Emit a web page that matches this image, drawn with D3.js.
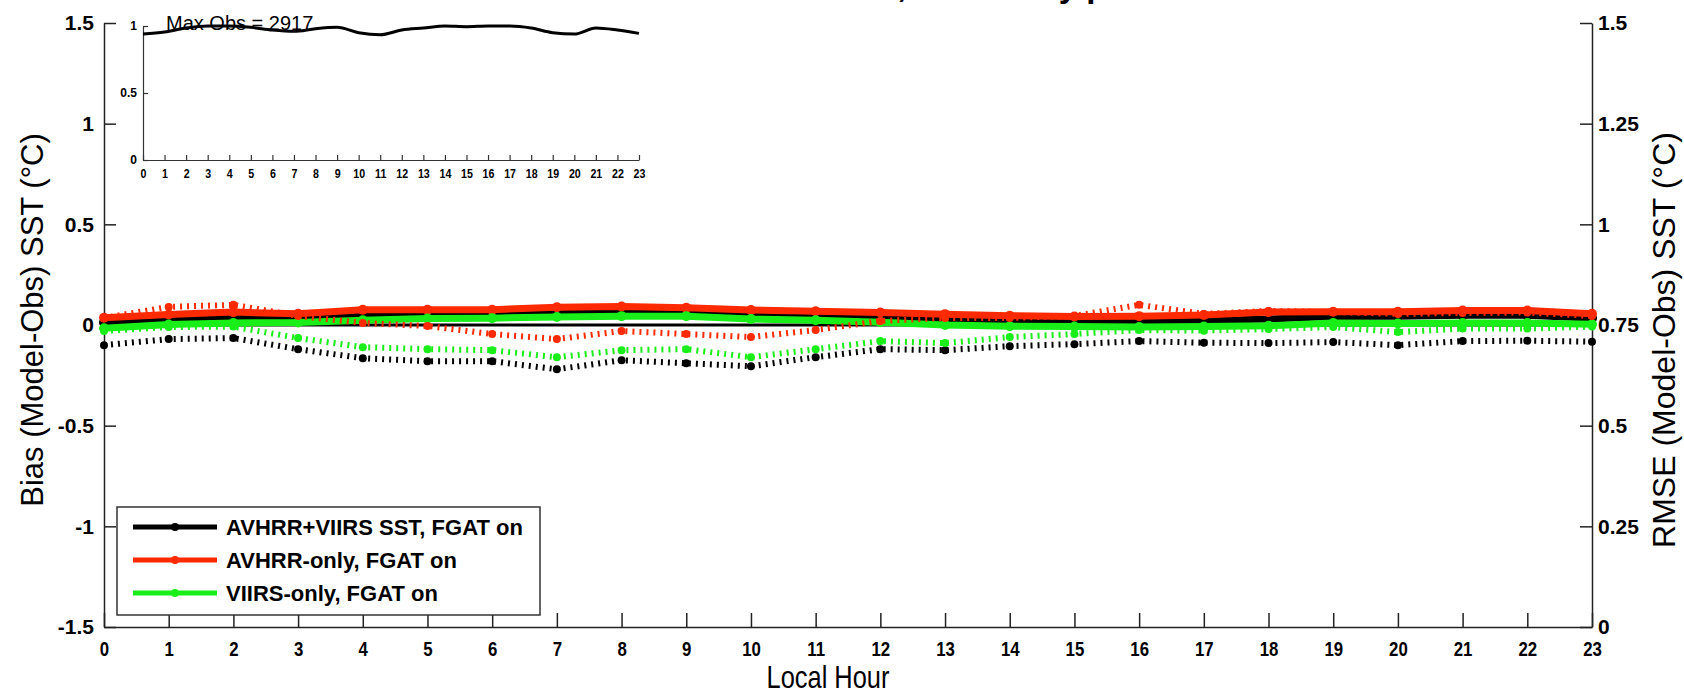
<!DOCTYPE html>
<html>
<head>
<meta charset="utf-8">
<script src="https://cdn.jsdelivr.net/npm/d3@7"></script>
<style>
body { margin: 0; background: #fff; }
text { font-family: "Liberation Sans", Arial, sans-serif; fill: #000; }
</style>
</head>
<body>
<script>
// local hour categories
var hours = [0,1,2,3,4,5,6,7,8,9,10,11,12,13,14,15,16,17,18,19,20,21,22,23];

// bias (left axis), dotted lines
var biasBoth  = [-0.10,-0.07,-0.065,-0.12,-0.165,-0.18,-0.18,-0.22,-0.175,-0.19,-0.205,-0.16,-0.12,-0.125,-0.105,-0.095,-0.08,-0.088,-0.09,-0.085,-0.10,-0.08,-0.078,-0.083];
var biasAvhrr = [0.035,0.09,0.10,0.045,0.01,-0.005,-0.045,-0.07,-0.03,-0.045,-0.06,-0.025,0.02,0.035,0.035,0.045,0.10,0.055,0.07,0.065,0.055,0.06,0.062,0.045];
var biasViirs = [-0.03,-0.01,-0.008,-0.065,-0.11,-0.12,-0.125,-0.16,-0.125,-0.12,-0.16,-0.12,-0.08,-0.09,-0.06,-0.045,-0.025,-0.028,-0.02,-0.01,-0.035,-0.018,-0.018,-0.008];

// rmse (right axis), solid lines
var rmseBoth  = [0.756,0.764,0.768,0.768,0.772,0.776,0.776,0.778,0.782,0.780,0.774,0.771,0.768,0.765,0.761,0.759,0.760,0.761,0.765,0.771,0.772,0.774,0.774,0.767];
var rmseAvhrr = [0.768,0.776,0.782,0.778,0.788,0.788,0.788,0.794,0.796,0.793,0.787,0.784,0.781,0.777,0.773,0.771,0.772,0.775,0.782,0.783,0.783,0.786,0.786,0.778];
var rmseViirs = [0.742,0.751,0.755,0.756,0.762,0.766,0.767,0.770,0.772,0.772,0.765,0.762,0.757,0.750,0.747,0.746,0.745,0.746,0.748,0.755,0.754,0.755,0.755,0.752];

// obs count relative to max (inset)
var obsFrac = [0.94,0.955,0.985,1.0,1.0,0.99,0.97,0.96,0.98,0.99,0.95,0.935,0.97,0.985,1.0,0.995,1.0,1.0,0.985,0.95,0.94,0.985,0.97,0.945];
var maxObs = 2917;

var biasTicks = [-1.5,-1,-0.5,0,0.5,1,1.5];
var rmseTicks = [0,0.25,0.5,0.75,1,1.25,1.5];
var insetTicks = [0,0.5,1];

var names  = ["AVHRR+VIIRS SST, FGAT on", "AVHRR-only, FGAT on", "VIIRS-only, FGAT on"];
var colors = ["#000000", "#ff2a00", "#19ee19"];

var W = 1684, H = 695;
var plotL = 104, plotR = 1592, plotT = 23, plotB = 627;

var svg = d3.select("body").append("svg")
    .attr("width", W).attr("height", H);

var x = d3.scaleLinear().domain([0, 23]).range([plotL, plotR]);
var yB = d3.scaleLinear().domain([-1.5, 1.5]).range([plotB, plotT]);
var yR = d3.scaleLinear().domain([0, 1.5]).range([plotB, plotT]);

// title, cut off by the top edge (only descenders show)
svg.append("text")
    .attr("x", 1187).attr("y", -3)
    .attr("text-anchor", "end")
    .style("font-size", "33px").style("font-weight", "bold")
    .text("Model-Obs SST Statistics, 2019 Daily profile");

// axes
var fmt = function(d){ return String(d); };

var axL = svg.append("g").attr("transform", "translate(" + plotL + ",0)")
    .call(d3.axisLeft(yB).tickValues(biasTicks).tickFormat(fmt).tickSizeInner(-12).tickSizeOuter(0).tickPadding(10));
var axR = svg.append("g").attr("transform", "translate(" + plotR + ",0)")
    .call(d3.axisRight(yR).tickValues(rmseTicks).tickFormat(fmt).tickSizeInner(-12).tickSizeOuter(0).tickPadding(6));
var axB = svg.append("g").attr("transform", "translate(0," + plotB + ")")
    .call(d3.axisBottom(x).tickValues(hours).tickFormat(fmt).tickSizeInner(-14).tickSizeOuter(0).tickPadding(14));

[axL, axR, axB].forEach(function(g){
    g.selectAll("path, line").attr("stroke", "#222").attr("stroke-width", 1.5);
    g.selectAll("text").style("font-size", "21px").style("font-weight", "bold").attr("fill", "#000");
});
// narrow digits under the x axis
axB.selectAll("text").style("font-size", "21px").attr("transform", "scale(0.8,1)");

// axis titles
svg.append("text")
    .attr("transform", "translate(828,688) scale(0.82,1)")
    .attr("text-anchor", "middle")
    .style("font-size", "31px")
    .text("Local Hour");

svg.append("text")
    .attr("transform", "translate(43,320) rotate(-90)")
    .attr("text-anchor", "middle")
    .style("font-size", "31px")
    .text("Bias (Model-Obs) SST (\u00B0C)");

svg.append("text")
    .attr("transform", "translate(1675,340) rotate(-90)")
    .attr("text-anchor", "middle")
    .style("font-size", "32px")
    .text("RMSE (Model-Obs) SST (\u00B0C)");

// zero line
svg.append("line")
    .attr("x1", plotL).attr("x2", plotR)
    .attr("y1", yB(0)).attr("y2", yB(0))
    .attr("stroke", "#000").attr("stroke-width", 3);

// series
var rmseSets = [rmseBoth, rmseAvhrr, rmseViirs];
var biasSets = [biasBoth, biasAvhrr, biasViirs];

var lineR = d3.line().x(function(d, i){ return x(hours[i]); }).y(function(d){ return yR(d); });
var lineB = d3.line().x(function(d, i){ return x(hours[i]); }).y(function(d){ return yB(d); });

rmseSets.forEach(function(vals, k){
    svg.append("path")
        .attr("d", lineR(vals))
        .attr("fill", "none")
        .attr("stroke", colors[k])
        .attr("stroke-width", 7);
    svg.append("g").selectAll("circle")
        .data(vals)
        .enter()
            .append("circle")
            .attr("cx", function(d, i){ return x(hours[i]); })
            .attr("cy", function(d){ return yR(d); })
            .attr("r", 5)
            .attr("fill", colors[k]);
});

biasSets.forEach(function(vals, k){
    svg.append("path")
        .attr("d", lineB(vals))
        .attr("fill", "none")
        .attr("stroke", colors[k])
        .attr("stroke-width", 6)
        .attr("stroke-dasharray", "2,5");
    svg.append("g").selectAll("circle")
        .data(vals)
        .enter()
            .append("circle")
            .attr("cx", function(d, i){ return x(hours[i]); })
            .attr("cy", function(d){ return yB(d); })
            .attr("r", 4)
            .attr("fill", colors[k]);
});

// legend
var lg = svg.append("g");
lg.append("rect")
    .attr("x", 117).attr("y", 507)
    .attr("width", 423).attr("height", 108)
    .attr("fill", "#fff")
    .attr("stroke", "#333").attr("stroke-width", 1.5);

names.forEach(function(n, k){
    var yy = 527 + k * 33;
    lg.append("line")
        .attr("x1", 133).attr("x2", 217)
        .attr("y1", yy).attr("y2", yy)
        .attr("stroke", colors[k]).attr("stroke-width", 5);
    lg.append("circle")
        .attr("cx", 175).attr("cy", yy).attr("r", 4)
        .attr("fill", colors[k]);
    lg.append("text")
        .attr("x", 226).attr("y", yy + 8)
        .style("font-size", "22px").style("font-weight", "bold")
        .text(n);
});

// inset: relative number of obs per hour
var xI = d3.scaleLinear().domain([0, 23]).range([143, 639]);
var yI = d3.scaleLinear().domain([0, 1]).range([160, 26]);

var inset = svg.append("g");
var iaL = inset.append("g").attr("transform", "translate(143,0)")
    .call(d3.axisLeft(yI).tickValues(insetTicks).tickFormat(fmt).tickSizeInner(-5).tickSizeOuter(0).tickPadding(6));
var iaB = inset.append("g").attr("transform", "translate(0,160)")
    .call(d3.axisBottom(xI).tickValues(hours).tickFormat(fmt).tickSizeInner(-5).tickSizeOuter(0).tickPadding(9));
[iaL, iaB].forEach(function(g){
    g.selectAll("path, line").attr("stroke", "#333").attr("stroke-width", 1.2);
    g.selectAll("text").style("font-size", "12px").style("font-weight", "bold").attr("fill", "#000");
});
iaB.selectAll("text").style("font-size", "13px").attr("transform", "scale(0.82,1)");

inset.append("path")
    .attr("d", d3.line().curve(d3.curveMonotoneX)
        .x(function(d, i){ return xI(hours[i]); })
        .y(function(d){ return yI(d); })(obsFrac))
    .attr("fill", "none")
    .attr("stroke", "#000")
    .attr("stroke-width", 3);

inset.append("text")
    .attr("x", 166).attr("y", 30)
    .style("font-size", "20px")
    .text("Max Obs = " + maxObs);
</script>
</body>
</html>
